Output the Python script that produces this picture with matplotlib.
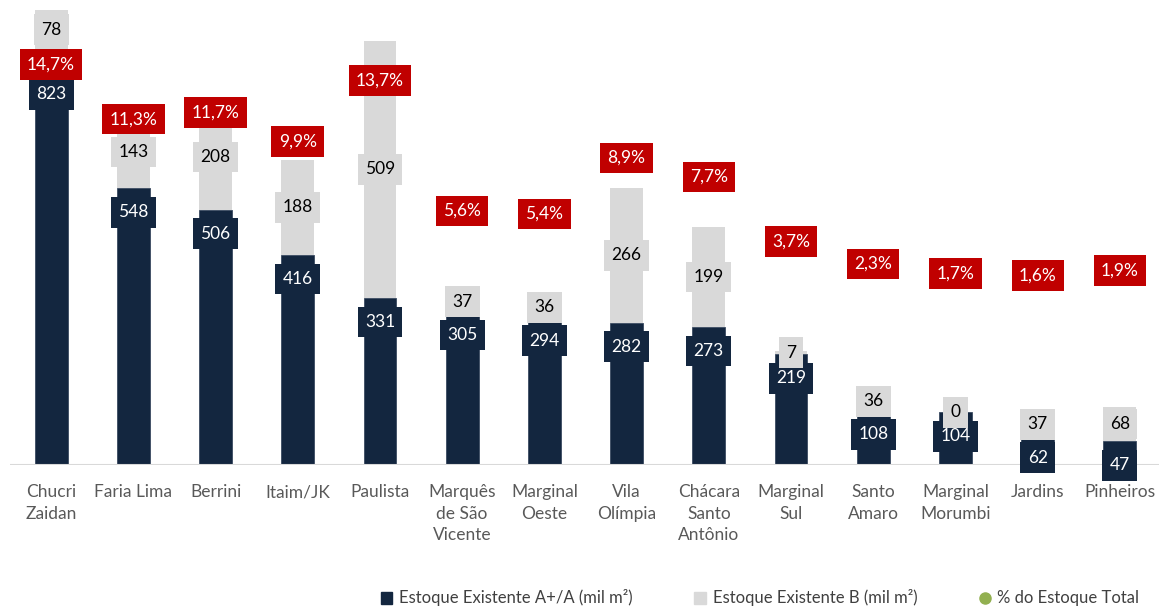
import numpy as np
import matplotlib.pyplot as plt
from matplotlib.lines import Line2D
from matplotlib.patches import Patch

# dados do gráfico
regioes = ['Chucri\nZaidan', 'Faria Lima', 'Berrini', 'Itaim/JK', 'Paulista',
           'Marquês\nde São\nVicente', 'Marginal\nOeste', 'Vila\nOlímpia',
           'Chácara\nSanto\nAntônio', 'Marginal\nSul', 'Santo\nAmaro',
           'Marginal\nMorumbi', 'Jardins', 'Pinheiros']
estoque_a = [823, 548, 506, 416, 331, 305, 294, 282, 273, 219, 108, 104, 62, 47]
estoque_b = [78, 143, 208, 188, 509, 37, 36, 266, 199, 7, 36, 0, 37, 68]
pct_total = [14.7, 11.3, 11.7, 9.9, 13.7, 5.6, 5.4, 8.9, 7.7, 3.7, 2.3, 1.7, 1.6, 1.9]

AZUL = '#13263F'
CINZA = '#D9D9D9'
VERMELHO = '#C00000'
VERDE = '#92B050'

plt.rcParams['font.family'] = ['Lato', 'DejaVu Sans']

W, H = 1159, 608
fig = plt.figure(figsize=(W / 100, H / 100), dpi=100)
ax = fig.add_axes([10 / W, (H - 465) / H, 1151 / W, 460 / H])

x = np.arange(len(regioes))
a = np.array(estoque_a)
b = np.array(estoque_b)

ax.bar(x, a, width=0.4, color=AZUL, edgecolor='#3a4a60', linewidth=0.6, zorder=2)
ax.bar(x, b, width=0.4, bottom=a, color=CINZA, zorder=2)

ymax = 911
ax.set_ylim(0, ymax)
ax.set_xlim(-0.5, len(regioes) - 0.5)
px = ymax / 460.0  # unidades por pixel

# rótulos das barras
for i in range(len(x)):
    y_a = a[i] - 24 * px
    if i == 0:
        y_a = a[i] - 45 * px
    ax.text(x[i], y_a, str(a[i]), ha='center', va='center', color='white',
            fontsize=12.5, zorder=5, clip_on=False,
            bbox=dict(boxstyle='square,pad=0.42', fc=AZUL, ec='none'))
for i in range(len(x)):
    ax.text(x[i], a[i] + b[i] / 2, str(b[i]), ha='center', va='center', color='black',
            fontsize=12.5, zorder=6, clip_on=False,
            bbox=dict(boxstyle='square,pad=0.42', fc=CINZA, ec='none'))

ax.axhline(0, color='#D9D9D9', linewidth=1.5, zorder=3)

# eixo secundário para o percentual
ax2 = ax.twinx()
ax2.set_ylim(-10.2, 18.4)
for i in range(len(x)):
    ax2.text(x[i], pct_total[i], ('%.1f%%' % pct_total[i]).replace('.', ','),
             ha='center', va='center', color='white', fontsize=12.5, zorder=7,
             bbox=dict(boxstyle='square,pad=0.42', fc=VERMELHO, ec='none'))

for eixo in (ax, ax2):
    eixo.set_yticks([])
    for s in eixo.spines.values():
        s.set_visible(False)

ax.set_xticks(x)
ax.set_xticklabels(regioes, fontsize=12.5, color='#595959', linespacing=1.4, va='top')
ax.tick_params(axis='x', length=0, pad=14)

handles = [Patch(color=AZUL), Patch(color=CINZA),
           Line2D([], [], marker='o', color=VERDE, linestyle='none', markersize=8)]
nomes = ['Estoque Existente A+/A (mil m²)', 'Estoque Existente B (mil m²)', '% do Estoque Total']
fig.legend(handles, nomes, loc='center', bbox_to_anchor=(760 / W, 10 / H), ncol=3,
           frameon=False, fontsize=12, handlelength=0.7, handleheight=0.7,
           handletextpad=0.4, columnspacing=3.7, labelcolor='#404040')

fig.savefig('out.png', dpi=100)
